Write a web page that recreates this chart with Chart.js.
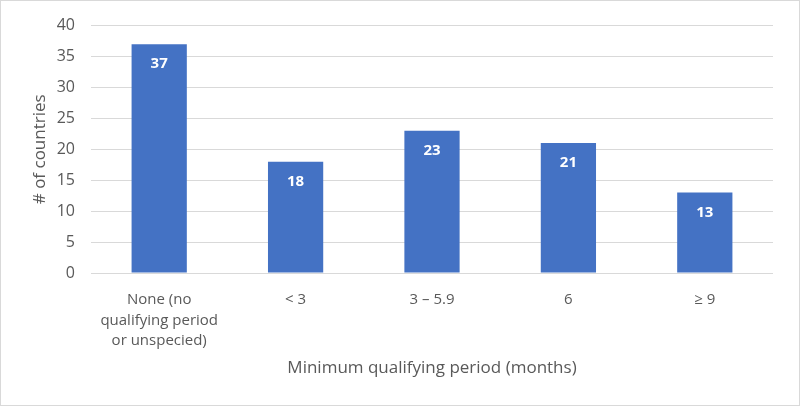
<!DOCTYPE html>
<html>
<head>
<meta charset="utf-8">
<script src="https://cdn.jsdelivr.net/npm/chart.js@4/dist/chart.umd.min.js"></script>
<style>
  html, body { margin: 0; padding: 0; background: #fff; }
  #wrap { width: 800px; height: 406px; position: relative; }
</style>
</head>
<body>
<div id="wrap"><canvas id="chart-qualifying"></canvas></div>
<script>
const categories = [
  ["None (no", "qualifying period", "or unspecied)"],
  "< 3",
  "3 \u2013 5.9",
  "6",
  "\u2265 9",
];
const country_counts = [37, 18, 23, 21, 13];
const y_ticks = [0, 5, 10, 15, 20, 25, 30, 35, 40];

const text_color = "#595959";
const font_family = "'Open Sans', 'Noto Sans', sans-serif";

// white numbers just under the top of each bar
const barLabels = {
  id: "barLabels",
  afterDatasetsDraw(chart) {
    const ctx = chart.ctx;
    const meta = chart.getDatasetMeta(0);
    ctx.save();
    ctx.fillStyle = "#ffffff";
    ctx.font = "bold 15px " + font_family;
    ctx.textAlign = "center";
    ctx.textBaseline = "middle";
    meta.data.forEach((bar, i) => {
      ctx.fillText(String(chart.data.datasets[0].data[i]), bar.x, bar.y + 20);
    });
    ctx.restore();
  },
};

// thin frame round the picture
const frame = {
  id: "frame",
  afterDraw(chart) {
    const ctx = chart.ctx;
    ctx.save();
    ctx.strokeStyle = "#d9d9d9";
    ctx.lineWidth = 1;
    ctx.strokeRect(0.5, 0.5, chart.width - 1, chart.height - 1);
    ctx.restore();
  },
};

new Chart(document.getElementById("chart-qualifying").getContext("2d"), {
  type: "bar",
  data: {
    labels: categories,
    datasets: [
      {
        label: "# of countries",
        data: country_counts,
        backgroundColor: "#4472C4",
        borderWidth: 0,
        categoryPercentage: 1,
        barPercentage: 0.405,
      },
    ],
  },
  options: {
    responsive: true,
    maintainAspectRatio: false,
    animation: false,
    layout: { padding: { top: 19, right: 27, bottom: 0, left: 0 } },
    plugins: {
      legend: { display: false },
      tooltip: { enabled: false },
    },
    scales: {
      x: {
        grid: { display: false },
        border: { display: false },
        ticks: {
          color: text_color,
          font: { family: font_family, size: 15, lineHeight: 1.35 },
          padding: 9,
          maxRotation: 0,
          autoSkip: false,
        },
        title: {
          display: true,
          text: "Minimum qualifying period (months)",
          color: text_color,
          font: { family: font_family, size: 17 },
          padding: { top: 0, bottom: 28 },
        },
        afterFit(scale) { scale.height = 133; },
      },
      y: {
        min: 0,
        max: 40,
        afterBuildTicks(scale) { scale.ticks = y_ticks.map(v => ({ value: v })); },
        grid: { color: "#d9d9d9", drawTicks: false },
        border: { display: false },
        ticks: {
          color: text_color,
          font: { family: font_family, size: 16 },
          padding: 16,
        },
        title: {
          display: true,
          text: "# of countries",
          color: text_color,
          font: { family: font_family, size: 17 },
          padding: { top: 30, bottom: 0 },
        },
        afterFit(scale) { scale.width = 91; },
      },
    },
  },
  plugins: [barLabels, frame],
});
</script>
</body>
</html>
